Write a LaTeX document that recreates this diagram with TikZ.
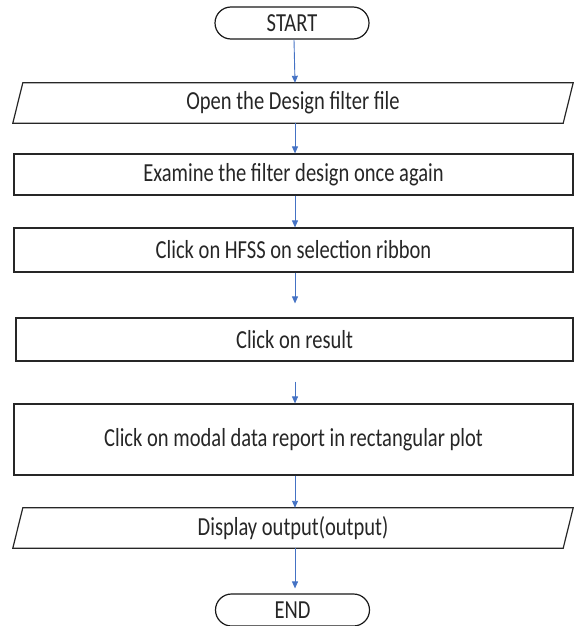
\documentclass[tikz,border=0pt]{standalone}
\usepackage{fontspec}
\setmainfont{Carlito}[FakeStretch=0.79]
\usetikzlibrary{arrows.meta}

\begin{document}
\begin{tikzpicture}[x=1pt,y=-1pt,
  txt/.style={font=\fontsize{26}{30}\selectfont,text=black!85,inner sep=0pt},
  box/.style={txt,draw=black!85,line width=1.2pt,minimum width=#1},
  term/.style={txt,draw=black!90,line width=1.2pt,rounded corners=16pt,
    minimum width=154pt,minimum height=32pt},
  flow/.style={draw=fl,line width=0.9pt,-{Triangle[width=6pt,length=7pt]}}]
 \definecolor{fl}{RGB}{68,114,196}
 \useasboundingbox (0,0) rectangle (574,626);
 % terminals
 \node[term] (start) at (292,23) {START};
 \node[term] (end) at (292.5,610) {END};
 % process boxes
 \foreach \nm/\xp/\yp/\w/\h/\lbl in {
   b2/293.5/174.5/559/41/Examine the filter design once again,
   b3/293.5/250/559/44/Click on HFSS on selection ribbon,
   b4/294.5/339.5/557/43/Click on result,
   b5/293.5/439.5/559/71/Click on modal data report in rectangular plot
 } {
   \node[box=\w pt,minimum height=\h pt] (\nm) at (\xp,\yp) {\lbl};
 }
 % input / output
 \foreach \nm/\yp/\lbl in {
   p1/103/Open the Design filter file,
   p2/528/Display output(output)
 } {
   \node[txt,minimum width=550pt,minimum height=40pt] (\nm) at (293,\yp) {\lbl};
   \draw[black!85,line width=1.2pt,line join=miter]
     ([xshift=5pt]\nm.north west) -- ([xshift=5pt]\nm.north east)
     -- ([xshift=-5pt]\nm.south east) -- ([xshift=-5pt]\nm.south west) -- cycle;
 }
 % connectors
 \draw[flow] ([xshift=2pt]start.south) -- ([xshift=2pt]p1.north);
 \draw[flow] ([xshift=2pt]p1.south) -- ([xshift=1.5pt]b2.north);
 \draw[flow] ([xshift=1.5pt]b2.south) -- ([xshift=1.5pt]b3.north);
 \draw[flow,shorten >=14pt] ([xshift=1.5pt]b3.south) -- ([xshift=0.5pt]b4.north);
 \draw[flow,shorten <=20pt] ([xshift=0.5pt]b4.south) -- ([xshift=1.5pt]b5.north);
 \draw[flow] ([xshift=1.5pt]b5.south) -- ([xshift=2pt]p2.north);
 \draw[flow,shorten >=5pt] ([xshift=2pt]p2.south) -- ([xshift=2.5pt]end.north);
\end{tikzpicture}
\end{document}
